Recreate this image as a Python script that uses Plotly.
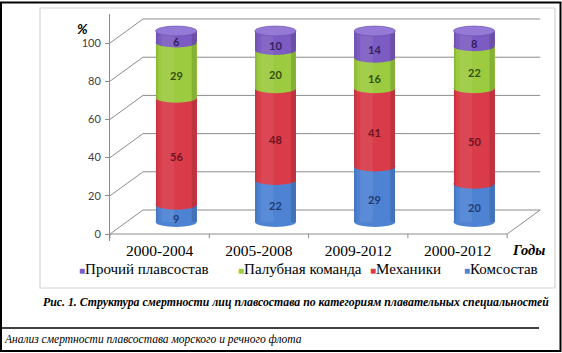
import plotly.graph_objects as go

# ---------------- data ----------------
categories = ["2000-2004", "2005-2008", "2009-2012", "2000-2012"]
komsostav = [9, 22, 29, 20]          # Комсостав
mehaniki = [56, 48, 41, 50]          # Механики
palubnaya = [29, 20, 16, 22]         # Палубная команда
prochiy = [6, 10, 14, 8]             # Прочий плавсостав
y_ticks = [0, 20, 40, 60, 80, 100]

series = [
    ("Комсостав", komsostav, "#4E83D3", "#1F3B73"),
    ("Механики", mehaniki, "#D93B49", "#6E1220"),
    ("Палубная команда", palubnaya, "#9CCB40", "#34500C"),
    ("Прочий плавсостав", prochiy, "#7C5CC2", "#33215F"),
]
top_cap_color = "#9479D6"
SERIF = "Liberation Serif, Times New Roman, serif"
SANS = "Lato, Open Sans, sans-serif"

# ---------------- geometry ----------------
W, H = 562, 353
ML, MR, MT, MB = 110, 16, 14, 112
PW, PH = W - ML - MR, H - MT - MB
KX = 99.3    # px per category
KY = 1.91    # px per percent
Y0 = -(241 - 234) / KY
YR = [Y0, Y0 + PH / KY]
XR = [-0.5, -0.5 + PW / KX]
DX = 16.5 / KX          # half depth (front -> middle)
DY = 12 / KY
BW = 41 / KX            # cylinder width
EH = 2.6                # ellipse half-height (percent units)

def px_x(px):
    return (px - ML) / PW

def px_y(py):
    return 1 - (py - MT) / PH

fig = go.Figure()
for name, vals, col, _ in series:
    fig.add_trace(go.Bar(
        x=list(range(len(categories))), y=vals, name=name,
        marker=dict(color=col, line=dict(width=0)),
        width=BW, xaxis="x2", yaxis="y2", showlegend=False,
        hoverinfo="name+y",
    ))

shapes = []
grid_col = "#8C8C8C"
# back wall gridlines and left diagonals
for v in y_ticks:
    shapes.append(dict(type="line", xref="x", yref="y", layer="below",
                       x0=-0.5 + 2 * DX, x1=len(categories) - 0.5 + 2 * DX,
                       y0=v + 2 * DY, y1=v + 2 * DY,
                       line=dict(color=grid_col, width=1)))
    shapes.append(dict(type="line", xref="x", yref="y", layer="below",
                       x0=-0.5, x1=-0.5 + 2 * DX, y0=v, y1=v + 2 * DY,
                       line=dict(color=grid_col, width=1)))
# front floor + right diagonal
shapes.append(dict(type="line", xref="x", yref="y", layer="below",
                   x0=-0.5, x1=len(categories) - 0.5, y0=0, y1=0,
                   line=dict(color=grid_col, width=1)))
shapes.append(dict(type="line", xref="x", yref="y", layer="below",
                   x0=len(categories) - 0.5, x1=len(categories) - 0.5 + 2 * DX,
                   y0=0, y1=2 * DY, line=dict(color=grid_col, width=1)))
# x tick marks
for k in range(len(categories) + 1):
    shapes.append(dict(type="line", xref="x", yref="y", layer="below",
                       x0=k - 0.5, x1=k - 0.5, y0=0, y1=-2.2,
                       line=dict(color=grid_col, width=1)))

# cylinder ellipses (bottom arcs of each segment) + top caps + shading
annotations = []
for i in range(len(categories)):
    base = 0
    for name, vals, col, tcol in series:
        v = vals[i]
        shapes.append(dict(type="circle", xref="x2", yref="y2", layer="above",
                           x0=i - BW / 2, x1=i + BW / 2, y0=base - EH, y1=base + EH,
                           fillcolor=col, line=dict(width=0)))
        annotations.append(dict(xref="x2", yref="y2", x=i, y=base + v / 2,
                                text=f"<b>{v}</b>", showarrow=False, yshift=-5,
                                xanchor="center", yanchor="middle",
                                font=dict(family=SANS, size=11, color=tcol)))
        base += v
    # subtle edge shading of the cylinder body
    shapes.append(dict(type="rect", xref="x2", yref="y2", layer="above",
                       x0=i + BW / 2 - 0.05, x1=i + BW / 2, y0=0, y1=base,
                       fillcolor="rgba(0,0,0,0.13)", line=dict(width=0)))
    shapes.append(dict(type="rect", xref="x2", yref="y2", layer="above",
                       x0=i - BW / 2, x1=i - BW / 2 + 0.025, y0=0, y1=base,
                       fillcolor="rgba(0,0,0,0.08)", line=dict(width=0)))
    shapes.append(dict(type="rect", xref="x2", yref="y2", layer="above",
                       x0=i - BW / 2 + 0.06, x1=i - 0.02, y0=0, y1=base,
                       fillcolor="rgba(255,255,255,0.07)", line=dict(width=0)))
    shapes.append(dict(type="circle", xref="x2", yref="y2", layer="above",
                       x0=i - BW / 2, x1=i + BW / 2, y0=base - EH, y1=base + EH,
                       fillcolor=top_cap_color, line=dict(color="#6A4FA8", width=0.6)))

# frames (paper coords)
shapes.append(dict(type="rect", xref="paper", yref="paper", layer="below",
                   x0=px_x(40), x1=px_x(555), y0=px_y(288), y1=px_y(8),
                   line=dict(color="#D4D4D4", width=1.2)))
shapes.append(dict(type="rect", xref="paper", yref="paper", layer="above",
                   x0=px_x(1), x1=px_x(560.5), y0=px_y(351), y1=px_y(2.5),
                   line=dict(color="#000000", width=2)))
shapes.append(dict(type="line", xref="paper", yref="paper", layer="above",
                   x0=px_x(0), x1=px_x(539), y0=px_y(328), y1=px_y(328),
                   line=dict(color="#000000", width=1.5)))

# axis titles
annotations.append(dict(xref="paper", yref="paper", x=px_x(82), y=px_y(29),
                        xanchor="center", yanchor="middle",
                        text="<b><i>%</i></b>", showarrow=False,
                        font=dict(family=SANS, size=14, color="#000000")))
annotations.append(dict(xref="paper", yref="paper", x=px_x(528), y=px_y(250),
                        xanchor="center", yanchor="middle",
                        text="<b><i>Годы</i></b>", showarrow=False,
                        font=dict(family=SERIF, size=14.5, color="#000000")))

# legend as text
legend_pos = [77, 236, 368, 462]
for (name, vals, col, _), lx in zip(list(reversed(series)), legend_pos):
    annotations.append(dict(xref="paper", yref="paper", x=px_x(lx), y=px_y(269),
                            xanchor="left", yanchor="middle", showarrow=False,
                            text=f"<span style='color:{col};font-size:10px'>■</span>{name}",
                            font=dict(family=SERIF, size=15, color="#000000")))

# caption & footer
annotations.append(dict(xref="paper", yref="paper", x=px_x(296), y=px_y(302),
                        xanchor="center", yanchor="middle", showarrow=False,
                        text="<b><i>Рис. 1. Структура смертности лиц плавсостава по категориям плавательных специальностей</i></b>",
                        font=dict(family=SERIF, size=11.8, color="#000000")))
annotations.append(dict(xref="paper", yref="paper", x=px_x(2), y=px_y(339),
                        xanchor="left", yanchor="middle", showarrow=False,
                        text="<i>Анализ смертности плавсостава морского и речного флота</i>",
                        font=dict(family=SERIF, size=11.5, color="#000000")))

fig.update_layout(
    width=W, height=H,
    margin=dict(l=ML, r=MR, t=MT, b=MB, pad=0),
    paper_bgcolor="white", plot_bgcolor="white",
    barmode="stack", bargap=0,
    showlegend=False,
    xaxis=dict(range=XR, tickvals=list(range(len(categories))), ticktext=categories,
               showgrid=False, zeroline=False, showline=False, ticks="",
               tickfont=dict(family=SERIF, size=15.5, color="#000000"),
               ticklabelstandoff=-2, fixedrange=True),
    yaxis=dict(range=YR, tickvals=y_ticks, showgrid=False, zeroline=False,
               showline=True, linecolor=grid_col, linewidth=1,
               ticks="outside", ticklen=4, tickcolor=grid_col,
               tickfont=dict(family=SANS, size=11, color="#404040"),
               ticklabelstandoff=2, fixedrange=True),
    xaxis2=dict(range=[XR[0] - DX, XR[1] - DX], overlaying="x", visible=False),
    yaxis2=dict(range=[YR[0] - DY, YR[1] - DY], overlaying="y", visible=False),
    shapes=shapes, annotations=annotations,
)

fig.write_html("out.html")
